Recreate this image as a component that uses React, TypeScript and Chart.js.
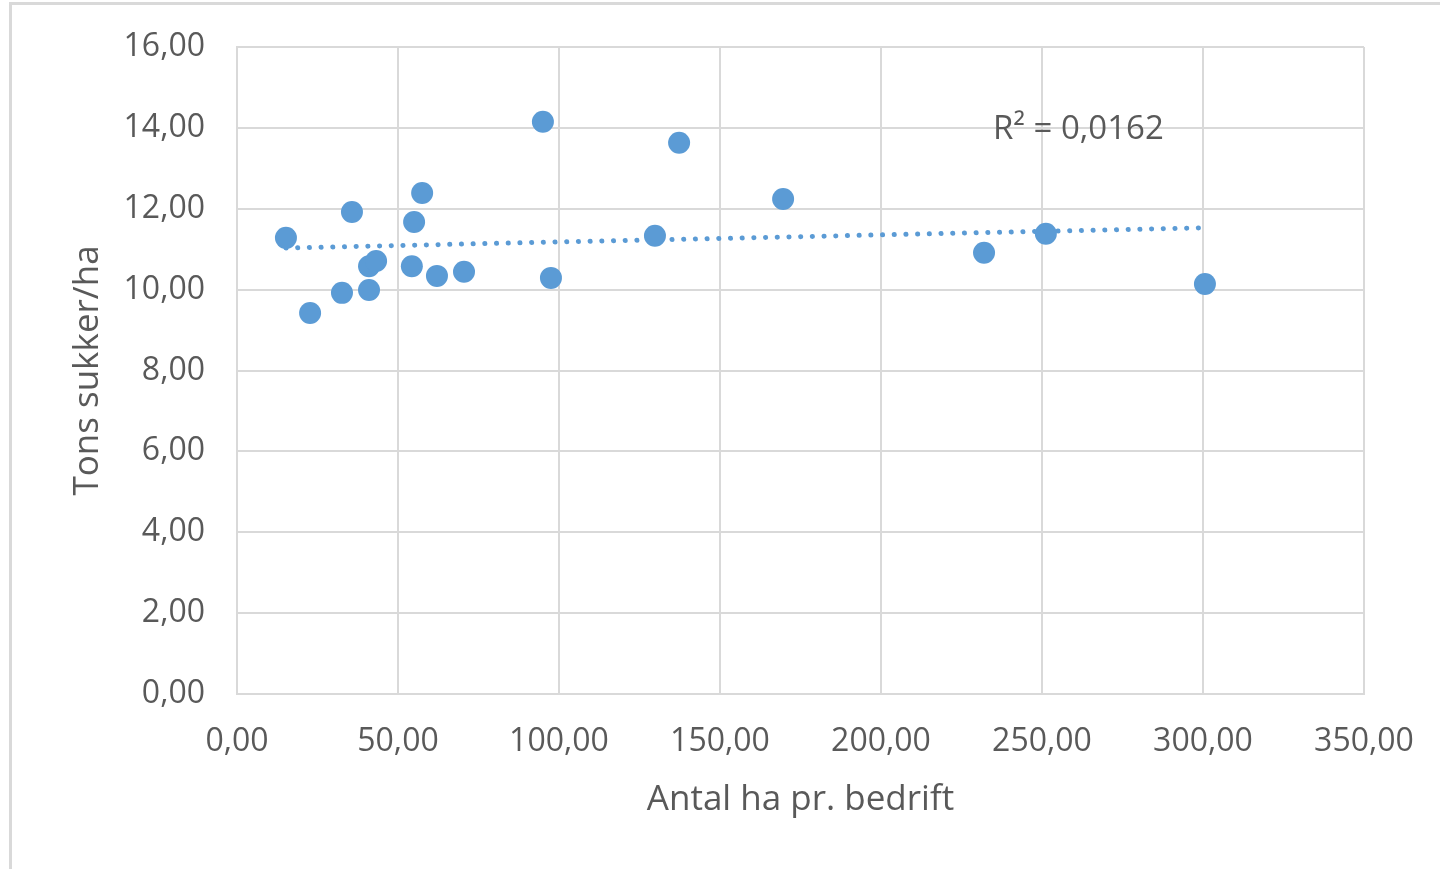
import React, { useEffect, useRef } from "react";
import { Chart, registerables } from "chart.js";

Chart.register(...registerables);

const xValues = [15.2, 22.7, 32.6, 35.7, 41.0, 41.0, 43.2, 54.3, 55.0, 57.5, 62.1, 70.5, 95.0, 97.5, 129.8, 137.3, 169.6, 232.0, 251.2, 300.6];
const yValues = [11.28, 9.42, 9.92, 11.92, 9.99, 10.58, 10.71, 10.58, 11.67, 12.39, 10.34, 10.44, 14.15, 10.29, 11.33, 13.63, 12.24, 10.91, 11.38, 10.14];
const trendX = [15.2, 300.6];
const trendY = [11.03, 11.53];
const r2Label = "R² = 0,0162";
const r2Pos = { x: 234.8, y: 13.95 };
const xTitle = "Antal ha pr. bedrift";
const yTitle = "Tons sukker/ha";

const FONT = "'Open Sans', 'Liberation Sans', sans-serif";
const TEXT = "#595959";
const GRID = "#d9d9d9";
const BLUE = "#5B9BD5";

const fmt = (v: number) => v.toFixed(2).replace(".", ",");

const zeroPad = (s: any) => {
  s.paddingLeft = 0;
  s.paddingRight = 0;
  s.paddingTop = 0;
  s.paddingBottom = 0;
};

export default function App() {
  const ref = useRef<HTMLCanvasElement | null>(null);
  useEffect(() => {
    if (!ref.current) return;
    const r2Plugin = {
      id: "r2",
      afterDatasetsDraw(chart: any) {
        const { ctx, scales } = chart;
        const px = scales.x.getPixelForValue(r2Pos.x);
        const py = scales.y.getPixelForValue(r2Pos.y);
        ctx.save();
        ctx.font = `33px ${FONT}`;
        ctx.fillStyle = TEXT;
        ctx.textAlign = "left";
        ctx.textBaseline = "middle";
        ctx.fillText(r2Label, px, py);
        ctx.restore();
      },
    };
    const chart = new Chart(ref.current, {
      type: "scatter",
      data: {
        datasets: [
          {
            label: "data",
            data: xValues.map((x, i) => ({ x, y: yValues[i] })),
            backgroundColor: BLUE,
            borderColor: BLUE,
            pointRadius: 11,
            pointBorderWidth: 0,
            showLine: false,
          },
          {
            label: "trend",
            type: "line",
            data: trendX.map((x, i) => ({ x, y: trendY[i] })),
            borderColor: BLUE,
            borderWidth: 5,
            borderDash: [0.1, 11.6],
            borderCapStyle: "round",
            pointRadius: 0,
            fill: false,
          } as any,
        ],
      },
      options: {
        animation: false,
        responsive: false,
        devicePixelRatio: 1,
        layout: { padding: { left: 0, top: 47, right: 76, bottom: 0 } },
        plugins: { legend: { display: false }, tooltip: { enabled: false } },
        scales: {
          x: {
            type: "linear",
            min: 0,
            max: 350,
            ticks: { stepSize: 50, color: TEXT, font: { family: FONT, size: 32 }, padding: 29, callback: (v: any) => fmt(Number(v)) },
            grid: { color: GRID, lineWidth: 2, drawTicks: false },
            border: { color: GRID, width: 2 },
            title: { display: true, text: xTitle, color: TEXT, font: { family: FONT, size: 35 }, padding: { top: 48, bottom: 48 } },
            afterFit: (s: any) => { s.height = 175; zeroPad(s); },
          },
          y: {
            min: 0,
            max: 16,
            ticks: { stepSize: 2, color: TEXT, font: { family: FONT, size: 32 }, padding: 32, callback: (v: any) => fmt(Number(v)) },
            grid: { color: GRID, lineWidth: 2, drawTicks: false },
            border: { color: GRID, width: 2 },
            title: { display: true, text: yTitle, color: TEXT, font: { family: FONT, size: 35 }, padding: { top: 67, bottom: 67 } },
            afterFit: (s: any) => { s.width = 237; zeroPad(s); },
          },
        },
      },
      plugins: [r2Plugin],
    } as any);
    return () => chart.destroy();
  }, []);
  return (
    <div>
      <div style={{ position: "fixed", left: 9, top: 2, width: 1500, height: 900, border: `3px solid ${GRID}`, boxSizing: "border-box" }} />
      <canvas ref={ref} width={1440} height={869} style={{ position: "fixed", left: 0, top: 0, width: 1440, height: 869 }} />
    </div>
  );
}
